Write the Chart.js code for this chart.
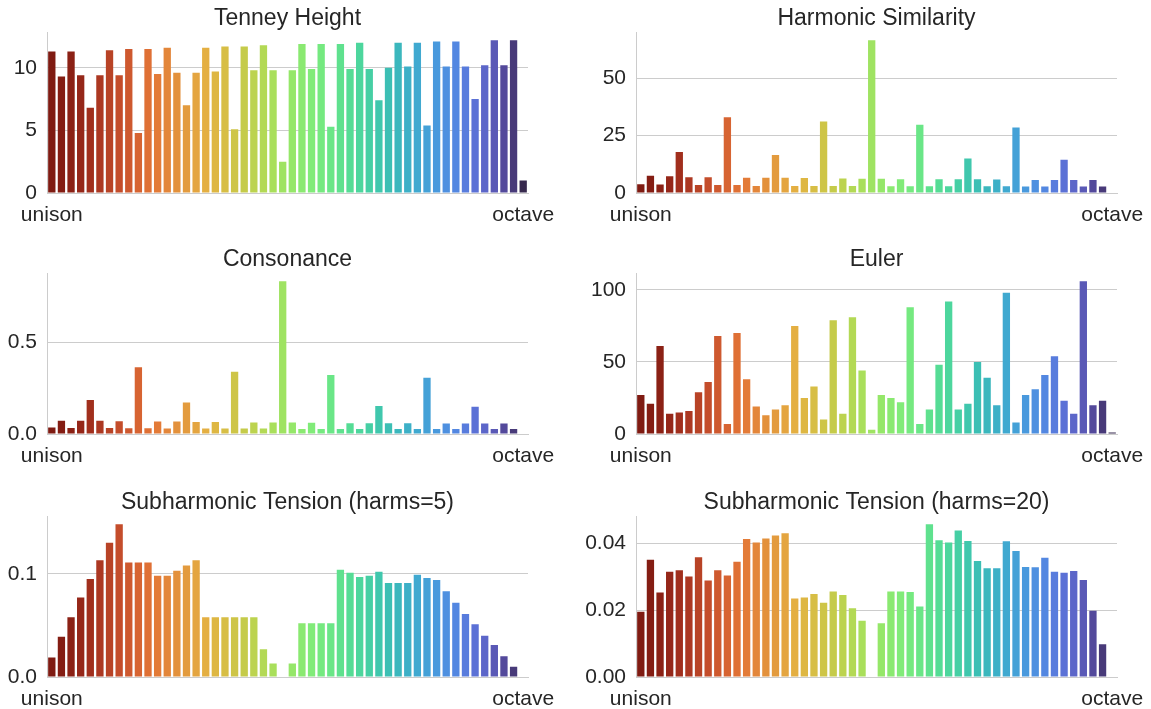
<!DOCTYPE html>
<html lang="en">
<head>
    <meta charset="UTF-8">
    <title>Interval measures</title>
    <script src="https://cdn.jsdelivr.net/npm/chart.js@4.4.0/dist/chart.umd.min.js"></script>
    <style>
        body{
            margin: 0;
            background-color: #ffffff;
            width: 1151px;
            height: 709px;
            position: relative;
            overflow: hidden;
        }
        .panel{
            position: absolute;
        }
    </style>
</head>
<body>
    <div class="panel" style="left:0px;top:5px"><canvas id="tenneyChart" width="565" height="218"></canvas></div>
    <div class="panel" style="left:580px;top:5px"><canvas id="harmonicChart" width="571" height="218"></canvas></div>
    <div class="panel" style="left:0px;top:246px"><canvas id="consonanceChart" width="565" height="218"></canvas></div>
    <div class="panel" style="left:580px;top:246px"><canvas id="eulerChart" width="571" height="218"></canvas></div>
    <div class="panel" style="left:0px;top:489px"><canvas id="sub5Chart" width="565" height="218"></canvas></div>
    <div class="panel" style="left:580px;top:489px"><canvas id="sub20Chart" width="571" height="218"></canvas></div>
    <script>
        // 50 interval steps from unison to octave
        var stepCount = 50;
        var tickLabels = ['unison', 'octave'];

        var tenneyHeight = [11.3, 9.3, 11.3, 9.4, 6.8, 9.4, 11.4, 9.4, 11.5, 4.8, 11.5, 9.5, 11.6, 9.6, 7.0, 9.6, 11.6, 9.7, 11.7, 5.1,
            11.7, 9.8, 11.8, 9.8, 2.5, 9.8, 11.9, 9.9, 11.9, 5.3, 11.9, 9.9, 12.0, 9.9, 7.4, 10.0, 12.0, 10.1, 12.0, 5.4,
            12.1, 10.1, 12.1, 10.1, 7.5, 10.2, 12.2, 10.2, 12.2, 1.0];
        var harmonicSimilarity = [3.8, 7.5, 3.7, 7.3, 17.9, 6.9, 3.5, 6.9, 3.5, 33.0, 3.5, 6.7, 3.1, 6.7, 16.6, 6.6, 3.1, 6.5, 3.1, 31.2,
            3.1, 6.3, 3.1, 6.2, 66.6, 6.2, 2.9, 6.0, 2.9, 29.8, 2.9, 6.0, 2.9, 6.0, 15.0, 6.0, 2.9, 5.9, 2.9, 28.6,
            2.8, 5.7, 2.8, 5.7, 14.5, 5.7, 2.8, 5.7, 2.8, null];
        var consonance = [0.035, 0.072, 0.033, 0.072, 0.186, 0.072, 0.033, 0.070, 0.031, 0.365, 0.031, 0.068, 0.030, 0.068, 0.173, 0.066, 0.030, 0.065, 0.030, 0.341,
            0.030, 0.063, 0.030, 0.063, 0.836, 0.063, 0.028, 0.061, 0.028, 0.323, 0.028, 0.059, 0.028, 0.059, 0.153, 0.059, 0.028, 0.059, 0.028, 0.308,
            0.028, 0.057, 0.028, 0.057, 0.149, 0.057, 0.028, 0.057, 0.028, null];
        var euler = [27, 21, 61, 14, 15, 16, 29, 36, 68, 7, 70, 38, 19, 13, 17, 20, 75, 25, 33, 10,
            79, 14, 81, 44, 3, 27, 25, 22, 88, 7, 17, 48, 92, 17, 21, 50, 39, 20, 98, 8,
            27, 31, 41, 54, 23, 14, 106, 20, 23, 1];
        var subTension5 = [0.019, 0.039, 0.058, 0.077, 0.095, 0.113, 0.130, 0.148, 0.111, 0.111, 0.111, 0.098, 0.098, 0.103, 0.108, 0.113, 0.058, 0.058, 0.058, 0.058,
            0.058, 0.058, 0.027, 0.013, null, 0.013, 0.052, 0.052, 0.052, 0.052, 0.104, 0.101, 0.097, 0.098, 0.102, 0.091, 0.091, 0.091, 0.099, 0.096,
            0.094, 0.083, 0.072, 0.061, 0.051, 0.040, 0.031, 0.020, 0.010, null];
        var subTension20 = [0.0195, 0.0351, 0.0253, 0.0315, 0.0319, 0.0301, 0.0358, 0.0289, 0.0319, 0.0304, 0.0345, 0.0413, 0.0402, 0.0414, 0.0423, 0.0430, 0.0235, 0.0238, 0.0248, 0.0222,
            0.0256, 0.0245, 0.0206, 0.0168, null, 0.0161, 0.0256, 0.0256, 0.0254, 0.0211, 0.0457, 0.0409, 0.0402, 0.0438, 0.0407, 0.0347, 0.0325, 0.0325, 0.0406, 0.0377,
            0.0329, 0.0328, 0.0357, 0.0315, 0.0312, 0.0317, 0.0290, 0.0198, 0.0098, null];

        var textColor = '#262626';
        var lineColor = '#cccccc';
        var fontFamily = '"Liberation Sans", Arial, sans-serif';

        var labels = [];
        for (var i = 0; i < stepCount; i++) {
            labels.push(i === 0 ? tickLabels[0] : (i === stepCount - 1 ? tickLabels[1] : ''));
        }

        // turbo colormap (polynomial approx), reversed and desaturated like seaborn bars
        function turbo(t) {
            var r = 0.13572138 + t*(4.61539260 + t*(-42.66032258 + t*(132.13108234 + t*(-152.94239396 + t*59.28637943))));
            var g = 0.09140261 + t*(2.19418839 + t*(4.84296658 + t*(-14.18503333 + t*(4.27729857 + t*2.82956604))));
            var b = 0.10667330 + t*(12.64194608 + t*(-60.58204836 + t*(110.36276771 + t*(-89.90310912 + t*27.34824973))));
            return [r, g, b].map(function(v) { return Math.min(1, Math.max(0, v)); });
        }
        function desaturate(rgb, prop) {
            var r = rgb[0], g = rgb[1], b = rgb[2];
            var mx = Math.max(r, g, b), mn = Math.min(r, g, b);
            var l = (mx + mn) / 2, h = 0, s = 0;
            if (mx !== mn) {
                var d = mx - mn;
                s = l > 0.5 ? d / (2 - mx - mn) : d / (mx + mn);
                if (mx === r) h = ((g - b) / d + (g < b ? 6 : 0)) / 6;
                else if (mx === g) h = ((b - r) / d + 2) / 6;
                else h = ((r - g) / d + 4) / 6;
            }
            s = s * prop;
            function hue2rgb(p, q, t) {
                if (t < 0) t += 1;
                if (t > 1) t -= 1;
                if (t < 1/6) return p + (q - p) * 6 * t;
                if (t < 1/2) return q;
                if (t < 2/3) return p + (q - p) * (2/3 - t) * 6;
                return p;
            }
            var q = l < 0.5 ? l * (1 + s) : l + s - l * s;
            var p = 2 * l - q;
            return [hue2rgb(p, q, h + 1/3), hue2rgb(p, q, h), hue2rgb(p, q, h - 1/3)];
        }
        var barColors = [];
        for (var k = 0; k < stepCount; k++) {
            var c = desaturate(turbo(1 - (k + 1) / (stepCount + 1)), 0.75);
            barColors.push('rgb(' + c.map(function(v) { return Math.round(v * 255); }).join(',') + ')');
        }

        function createChart(chartId, title, values, step, decimals, axisWidth, padRight) {
            var ctx = document.getElementById(chartId).getContext('2d');
            var top = Math.max.apply(null, values.filter(function(v) { return v !== null; })) * 1.05;
            return new Chart(ctx, {
                type: 'bar',
                data: {
                    labels: labels,
                    datasets: [{
                        data: values,
                        backgroundColor: barColors,
                        borderWidth: 0,
                        barPercentage: 0.76,
                        categoryPercentage: 1.0
                    }]
                },
                options: {
                    responsive: false,
                    animation: false,
                    layout: { padding: { left: 0, right: padRight, top: 0, bottom: 0 } },
                    plugins: {
                        legend: { display: false },
                        tooltip: { enabled: false },
                        title: {
                            display: true,
                            text: title,
                            color: textColor,
                            fullSize: false,
                            padding: 0,
                            font: { family: fontFamily, size: 23, weight: 'normal', lineHeight: 1.2 }
                        }
                    },
                    scales: {
                        x: {
                            grid: { display: false },
                            border: { display: true, color: lineColor, width: 1 },
                            ticks: {
                                autoSkip: false,
                                maxRotation: 0,
                                minRotation: 0,
                                padding: 2,
                                color: textColor,
                                font: { family: fontFamily, size: 21 }
                            },
                            afterFit: function(scale) {
                                scale.height = 30;
                                scale.paddingLeft = 0;
                                scale.paddingRight = 0;
                            }
                        },
                        y: {
                            min: 0,
                            max: top,
                            grid: { color: lineColor, lineWidth: 1, drawTicks: false },
                            border: { display: true, color: lineColor, width: 1 },
                            ticks: {
                                stepSize: step,
                                padding: 10,
                                color: textColor,
                                font: { family: fontFamily, size: 21 },
                                callback: function(value) { return value.toFixed(decimals); }
                            },
                            afterBuildTicks: function(scale) {
                                var ticks = [];
                                for (var j = 0; j * step <= scale.max; j++) {
                                    ticks.push({ value: j * step });
                                }
                                scale.ticks = ticks;
                            },
                            afterFit: function(scale) {
                                scale.width = axisWidth;
                                scale.paddingTop = 0;
                                scale.paddingBottom = 0;
                            }
                        }
                    }
                }
            });
        }

        window.onload = function() {
            createChart('tenneyChart', 'Tenney Height', tenneyHeight, 5, 0, 47, 37);
            createChart('harmonicChart', 'Harmonic Similarity', harmonicSimilarity, 25, 0, 56, 34);
            createChart('consonanceChart', 'Consonance', consonance, 0.5, 1, 47, 37);
            createChart('eulerChart', 'Euler', euler, 50, 0, 56, 34);
            createChart('sub5Chart', 'Subharmonic Tension (harms=5)', subTension5, 0.1, 1, 47, 37);
            createChart('sub20Chart', 'Subharmonic Tension (harms=20)', subTension20, 0.02, 2, 56, 34);
        };
    </script>
</body>
</html>
